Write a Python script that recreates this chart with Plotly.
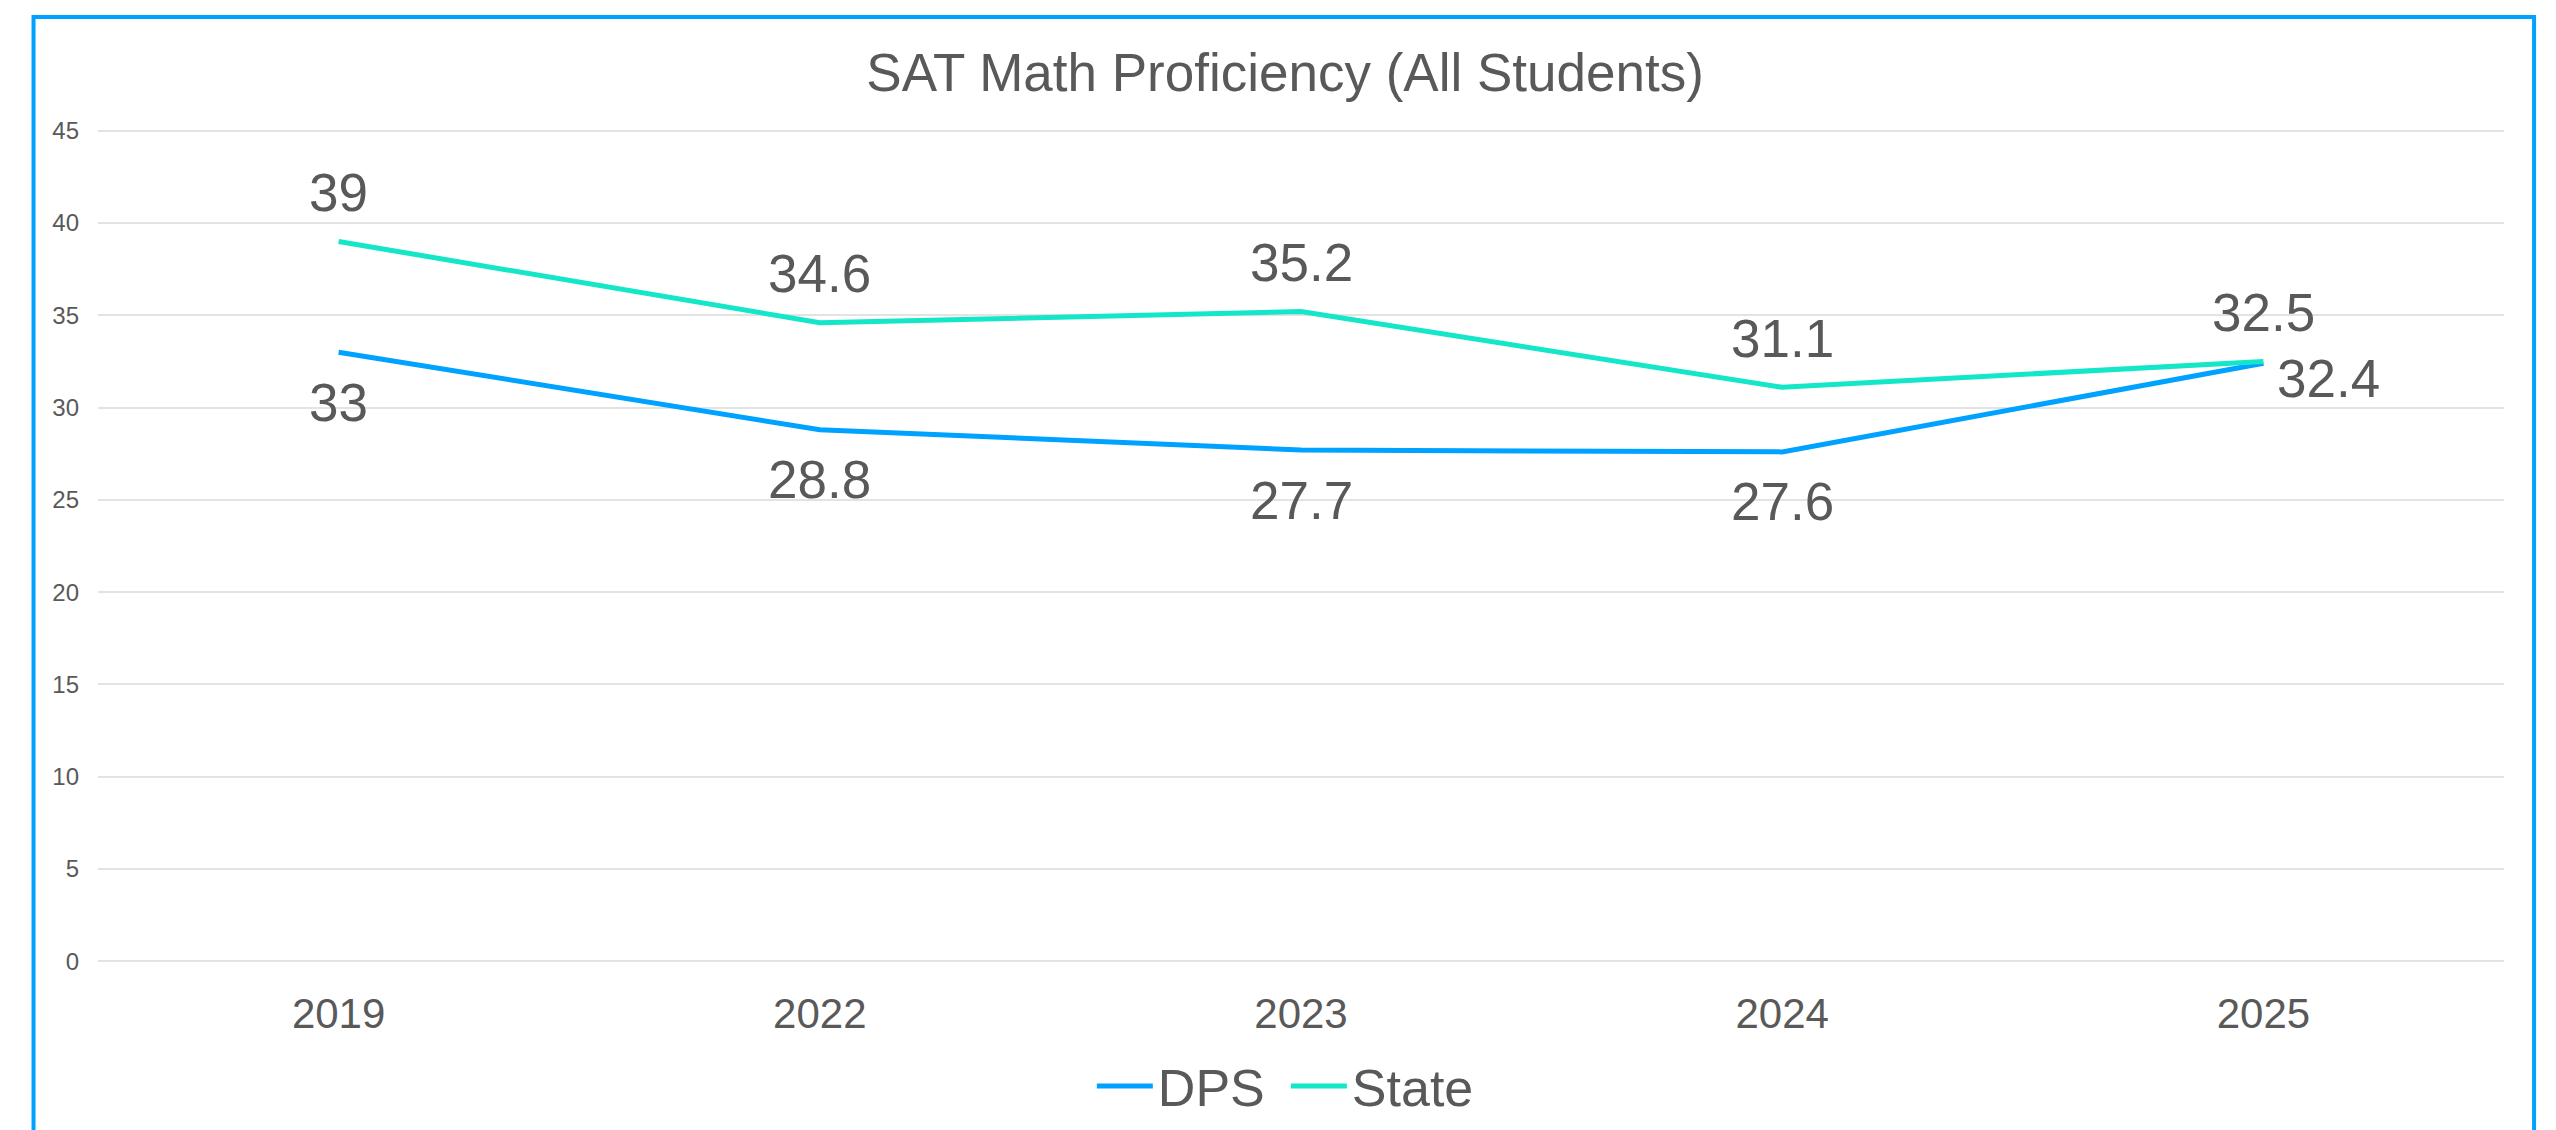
import plotly.graph_objects as go

years = ["2019", "2022", "2023", "2024", "2025"]
dps = [33, 28.8, 27.7, 27.6, 32.4]
state = [39, 34.6, 35.2, 31.1, 32.5]
y_ticks = [0, 5, 10, 15, 20, 25, 30, 35, 40, 45]

FONT = "Liberation Sans, Arial, sans-serif"
GRAY = "#595959"
BLUE = "#00A2FF"
TEAL = "#14E6C8"

fig = go.Figure()

fig.add_trace(go.Scatter(x=years, y=dps, name="DPS", mode="lines",
                         line=dict(color=BLUE, width=5), hoverinfo="skip"))
fig.add_trace(go.Scatter(x=years, y=state, name="State", mode="lines",
                         line=dict(color=TEAL, width=5), hoverinfo="skip"))


def fmt(v):
    return f"{v:g}"


annotations = []
lab_font = dict(family=FONT, size=53, color=GRAY)
for i, v in enumerate(state):
    annotations.append(dict(x=i, y=v, xref="x", yref="y", text=fmt(v), showarrow=False,
                            xanchor="center", yanchor="middle", yshift=49, font=lab_font))
for i, v in enumerate(dps):
    last = i == len(dps) - 1
    annotations.append(dict(x=i, y=v, xref="x", yref="y", text=fmt(v), showarrow=False,
                            xanchor="left" if last else "center", yanchor="middle",
                            xshift=12 if last else 0, yshift=-15 if last else -50,
                            font=lab_font))

fig.update_layout(
    width=2548, height=1122,
    margin=dict(l=90, r=52, t=120, b=166),
    paper_bgcolor="white", plot_bgcolor="white",
    font=dict(family=FONT, color=GRAY),
    title=dict(text="SAT Math Proficiency (All Students)", x=0.5012, y=0.943,
               xanchor="center", yanchor="middle", xref="container", yref="container",
               font=dict(family=FONT, size=53, color=GRAY)),
    showlegend=True,
    legend=dict(orientation="h", x=0.4937, y=0.039, yref="container",
                xanchor="center", yanchor="middle",
                font=dict(family=FONT, size=52, color=GRAY), itemwidth=56,
                entrywidth=123, entrywidthmode="pixels",
                bgcolor="rgba(0,0,0,0)", traceorder="normal"),
    xaxis=dict(type="category", range=[-0.5, 4.5], showgrid=False, zeroline=False,
               showline=False, tickfont=dict(family=FONT, size=42, color=GRAY),
               ticklabelstandoff=21, automargin=False),
    yaxis=dict(range=[-0.15, 45.15], tickvals=y_ticks, showgrid=True, gridcolor="#E3E3E3",
               gridwidth=2, zeroline=False, showline=False, automargin=False,
               tickfont=dict(family=FONT, size=24, color=GRAY), ticklabelstandoff=18),
    annotations=annotations,
    shapes=[dict(type="rect", xref="paper", yref="paper",
                 x0=-0.0268, x1=1.0125, y0=-0.25, y1=1.1328,
                 line=dict(color=BLUE, width=4), fillcolor="rgba(0,0,0,0)",
                 layer="below")],
)

fig.write_html("out.html")
